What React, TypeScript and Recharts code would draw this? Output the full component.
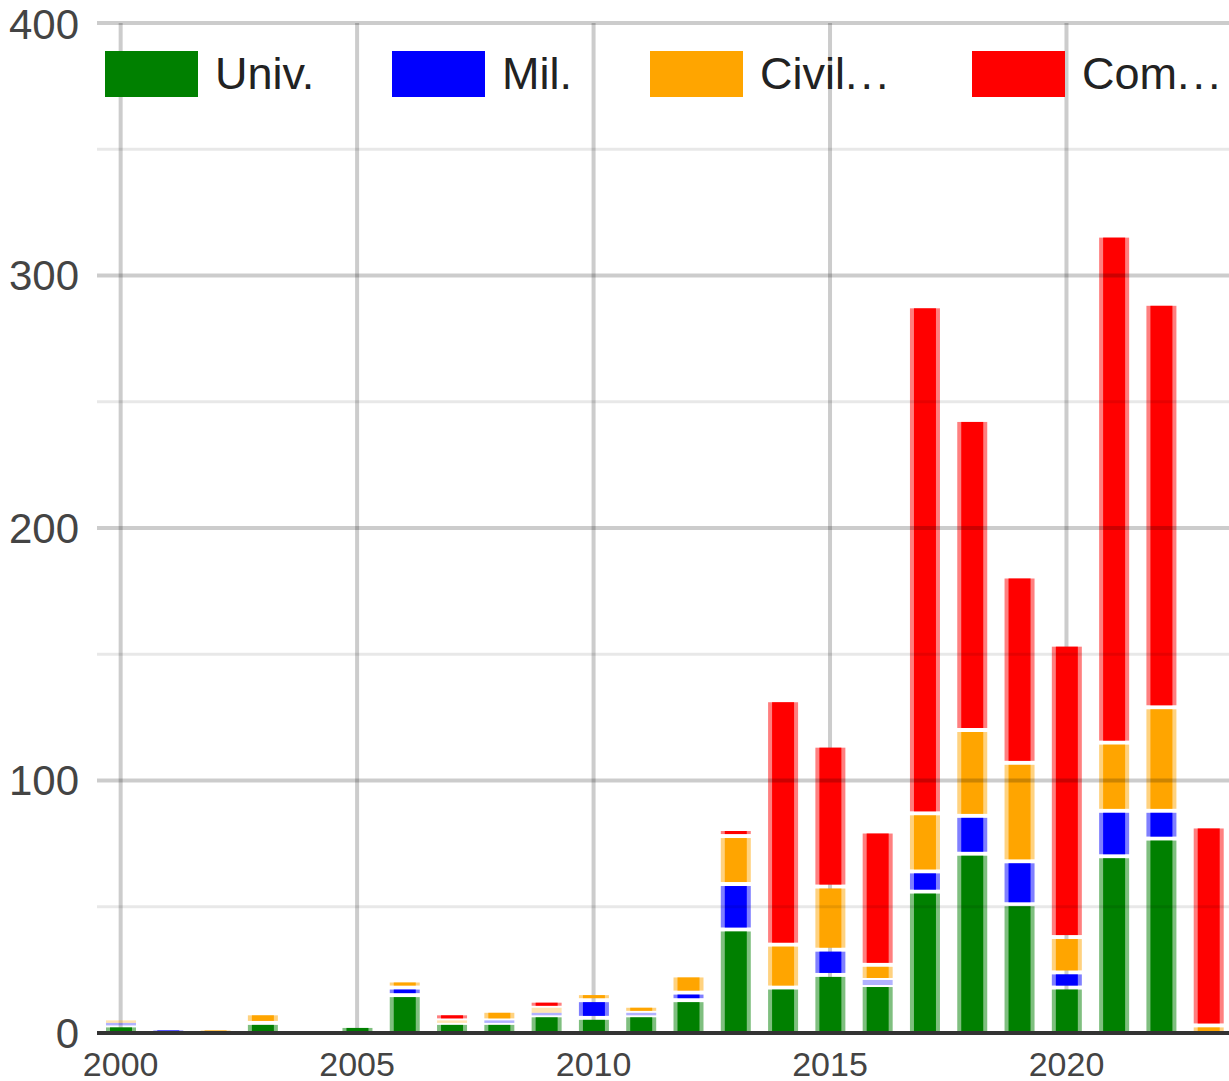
import { BarChart, Bar, XAxis, YAxis, ReferenceLine } from "recharts"

const years = [
  2000, 2001, 2002, 2003, 2004, 2005, 2006, 2007, 2008, 2009, 2010, 2011,
  2012, 2013, 2014, 2015, 2016, 2017, 2018, 2019, 2020, 2021, 2022, 2023,
]
const univ = [3, 0, 0, 4, 0, 2, 15, 4, 4, 7, 6, 7, 13, 41, 18, 23, 19, 56, 71, 51, 18, 70, 77, 0]
const mil = [1, 1, 0, 0, 0, 0, 3, 0, 1, 1, 7, 1, 3, 18, 0, 10, 2, 8, 15, 17, 6, 18, 11, 0]
const civil = [1, 0, 1, 3, 0, 0, 2, 1, 3, 2, 2, 2, 6, 19, 17, 25, 6, 23, 34, 39, 14, 27, 41, 3]
const com = [0, 0, 0, 0, 0, 0, 0, 2, 0, 2, 0, 0, 0, 2, 96, 55, 52, 200, 122, 73, 115, 200, 159, 78]

const xTicks = [2000, 2005, 2010, 2015, 2020]
const yTicks = [0, 100, 200, 300, 400]
const minorTicks = [50, 150, 250, 350]

const series = [
  { key: "univ", label: "Univ", color: "#008000" },
  { key: "mil", label: "Mil", color: "#0000ff" },
  { key: "civil", label: "Civil", color: "#ffa500" },
  { key: "com", label: "Com", color: "#ff0000" },
]
// legend shows "Univ." "Mil." and truncated "Civil..." "Com..."
const legendSuffix = [".", ".", "...", "..."]
const legendLeft = [105, 392, 650, 972]

const data = years.map((year, i) => ({
  year,
  univ: univ[i],
  mil: mil[i],
  civil: civil[i],
  com: com[i],
}))

const FONT = "Arial, 'Liberation Sans', sans-serif"

// stacked segment: light side border, small transparent gap between segments
const makeShape = (idx: number) => (props: any) => {
  const { x, y, width, height, payload } = props
  if (!height || height <= 0) return <g />
  const color = series[idx].color
  const below = series.slice(0, idx).reduce((s, sr) => s + (payload[sr.key] || 0), 0)
  const above = series.slice(idx + 1).reduce((s, sr) => s + (payload[sr.key] || 0), 0)
  const top = y + (above > 0 ? 2 : 0)
  const bottom = y + height - (below > 0 ? 2 : 0)
  if (bottom - top < 2) {
    return <rect x={x} y={y} width={width} height={height} fill={color} fillOpacity={0.3} />
  }
  return (
    <g>
      <rect x={x} y={top} width={width} height={bottom - top} fill={color} fillOpacity={0.5} />
      <rect x={x + 4} y={top} width={width - 8} height={bottom - top} fill={color} />
    </g>
  )
}

const Legend = () => (
  <div style={{ fontFamily: FONT, fontSize: 45, color: "#222" }}>
    {series.map((s, i) => (
      <div
        key={s.key}
        style={{
          position: "absolute",
          top: 51,
          left: legendLeft[i],
          display: "flex",
          alignItems: "center",
          whiteSpace: "nowrap",
        }}
      >
        <div
          style={{
            width: 85,
            height: 38,
            background: s.color,
            border: `4px solid ${s.color}80`,
            marginRight: 17,
          }}
        />
        <span style={{ lineHeight: "46px" }}>
          {s.label}
          <span style={{ letterSpacing: legendSuffix[i].length > 1 ? 3 : 0 }}>{legendSuffix[i]}</span>
        </span>
      </div>
    ))}
  </div>
)

const App = () => {
  return (
    <div
      style={{
        position: "absolute",
        left: 0,
        top: 0,
        width: 1229,
        height: 1081,
        overflow: "hidden",
        background: "#fff",
      }}
    >
      <BarChart
        width={1240}
        height={1081}
        data={data}
        margin={{ top: 23, right: 8, bottom: 0, left: 0 }}
        barSize={30}
      >
        {xTicks.map((t) => (
          <ReferenceLine key={"v" + t} x={t} stroke="#cccccc" strokeWidth={4} zIndex={-10} />
        ))}
        <XAxis
          dataKey="year"
          type="category"
          ticks={xTicks}
          interval={0}
          height={48}
          tickSize={0}
          tickMargin={19}
          tickLine={false}
          axisLine={{ stroke: "#333", strokeWidth: 4 }}
          tick={{ fontSize: 34, fill: "#444", fontFamily: FONT }}
        />
        <YAxis
          domain={[0, 400]}
          ticks={yTicks}
          width={97}
          tickSize={0}
          tickMargin={18}
          tickLine={false}
          axisLine={false}
          tick={{ fontSize: 42, fill: "#444", fontFamily: FONT }}
        />
        {series.map((s, i) => (
          <Bar
            key={s.key}
            dataKey={s.key}
            name={s.label}
            stackId="a"
            fill={s.color}
            shape={makeShape(i)}
            isAnimationActive={false}
          />
        ))}
        {minorTicks.map((t) => (
          <ReferenceLine key={"m" + t} y={t} stroke="rgba(0,0,0,0.09)" strokeWidth={3} zIndex={450} />
        ))}
        {yTicks.filter((t) => t > 0).map((t) => (
          <ReferenceLine key={"h" + t} y={t} stroke="rgba(0,0,0,0.2)" strokeWidth={4} zIndex={450} />
        ))}
      </BarChart>
      <Legend />
    </div>
  )
}

export default App
